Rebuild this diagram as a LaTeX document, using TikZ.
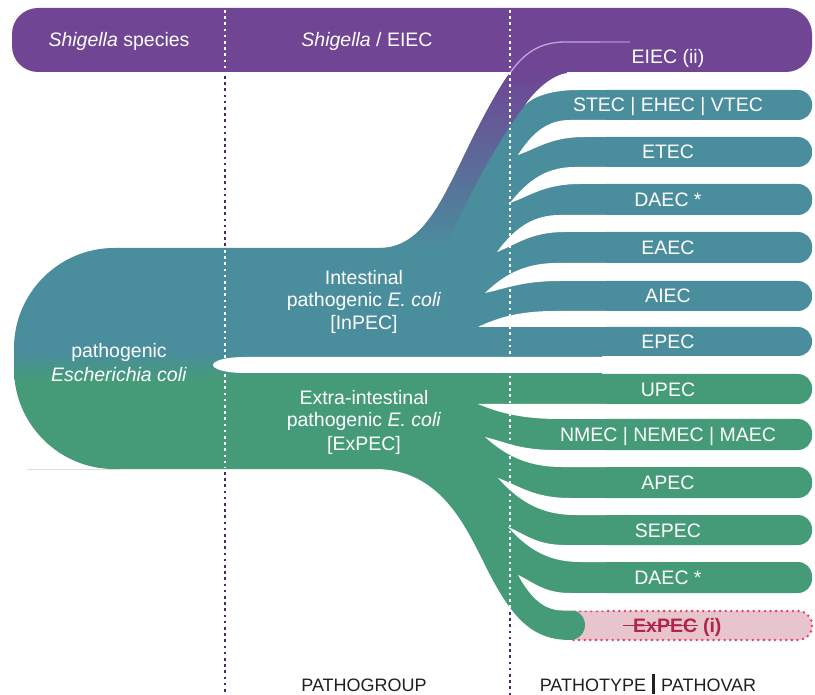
\documentclass[tikz,border=0pt]{standalone}
\usepackage{fontspec}
\setmainfont{Liberation Sans}
\usetikzlibrary{calc}
\definecolor{purp}{RGB}{111,69,148}
\definecolor{tealc}{RGB}{74,141,157}
\definecolor{greenc}{RGB}{69,155,120}
\definecolor{darkdot}{RGB}{72,42,106}
\definecolor{pinkfill}{RGB}{232,196,205}
\definecolor{pinkdot}{RGB}{232,64,100}
\definecolor{crimson}{RGB}{176,38,72}
\definecolor{lav}{RGB}{190,170,215}
\definecolor{inkc}{RGB}{35,31,32}
\tikzset{
  lbl/.style={text=white, font=\fontsize{19.5}{22.5}\selectfont, inner sep=0pt, anchor=base},
  botlbl/.style={text=inkc, font=\fontsize{18}{21}\selectfont, inner sep=0pt, anchor=base},
  whitedots/.style={draw=white, line width=2.6pt, dash pattern=on 2.6pt off 3.6pt},
  darkdots/.style={draw=darkdot, line width=2.6pt, dash pattern=on 2.6pt off 3.6pt},
  tealbar/.style={fill=tealc, rounded corners=14pt},
  greenbar/.style={fill=greenc, rounded corners=14pt},
  gapfill/.style={fill=white}
}
\begin{document}
\begin{tikzpicture}[x=1pt,y=-1pt]
\useasboundingbox (0,0) rectangle (815,695);
\fill[white] (0,0) rectangle (815,695);

% pink dotted box
\draw[pinkdot, fill=pinkfill, line width=2.8pt, dash pattern=on 0pt off 5.6pt, line cap=round, rounded corners=14pt] (560,611) rectangle (812,640);

% right bars
\foreach \t/\b in {90/120,137/167,184/215,232/263,281/311,327/356}
  \path[tealbar] (590,\t) rectangle (812,\b);
\foreach \t/\b in {374/404,419/450,467/498,515/545,562/593}
  \path[greenbar] (590,\t) rectangle (812,\b);

% main body and fans
\begin{scope}
\clip (114,248) -- (380,248) .. controls (420,248) and (440,205) .. (462,160)
  .. controls (480,122) and (500,85) .. (512,70) -- (602,70) -- (602,610) -- (570,610)
  .. controls (578.3,610) and (585,616.7) .. (585,625) .. controls (585,633.3) and (578.3,640) .. (570,640)
  .. controls (530,640) and (510,615) .. (485,565) .. controls (465,525) and (440,469) .. (375,469)
  -- (114,469) .. controls (59,469) and (14,424) .. (14,369) -- (14,348)
  .. controls (14,293) and (59,248) .. (114,248) -- cycle;
\fill[tealc] (0,0) rectangle (815,365);
\fill[greenc] (0,365) rectangle (815,695);
\shade[top color=tealc, bottom color=greenc] (0,352) rectangle (240,380);
\end{scope}

% white wedges, upper fan
\path[gapfill] (525,105) -- (540,75) -- (545,70) -- (606,70) -- (606,90) -- (578,90)
  .. controls (555,90) and (535,95) .. (525,105) -- cycle;
\path[gapfill] (518,155) .. controls (533.6,130.5) and (549.2,120) .. (570,120) -- (606,120) -- (606,137) -- (585,137)
  .. controls (551.5,137) and (538.1,147.8) .. (518,155) -- cycle;
\path[gapfill] (510,203) .. controls (529.5,177.8) and (549,167) .. (575,167) -- (606,167) -- (606,184) -- (580,184)
  .. controls (545,184) and (531,195.4) .. (510,203) -- cycle;
\path[gapfill] (497,252) .. controls (515.9,226.1) and (534.8,215) .. (560,215) -- (606,215) -- (606,232) -- (565,232)
  .. controls (531,232) and (517.4,244) .. (497,252) -- cycle;
\path[gapfill] (485,293) .. controls (506.6,272) and (528.2,263) .. (557,263) -- (606,263) -- (606,281) -- (560,281)
  .. controls (522.5,281) and (507.5,288.2) .. (485,293) -- cycle;
\path[gapfill] (478,327) .. controls (501.1,315.8) and (524.2,311) .. (555,311) -- (606,311) -- (606,327) -- cycle;
% slot
\path[gapfill] (606,357) -- (245,357) .. controls (225,357) and (213,361) .. (213,365)
  .. controls (213,369) and (225,373) .. (245,373) -- (606,373) -- cycle;
% white wedges, lower fan
\path[gapfill] (478,404) -- (606,404) -- (606,419) -- (560,419)
  .. controls (527.2,419) and (502.6,414.5) .. (478,404) -- cycle;
\path[gapfill] (485,437) .. controls (506,442.2) and (520,450) .. (555,450) -- (606,450) -- (606,467) -- (562,467)
  .. controls (531.2,467) and (508.1,458) .. (485,437) -- cycle;
\path[gapfill] (498,478) .. controls (519.6,486) and (534,498) .. (570,498) -- (606,498) -- (606,515) -- (575,515)
  .. controls (544.2,515) and (521.1,503.9) .. (498,478) -- cycle;
\path[gapfill] (508,527) .. controls (525.1,534.2) and (536.5,545) .. (565,545) -- (606,545) -- (606,562) -- (580,562)
  .. controls (551.2,562) and (529.6,551.5) .. (508,527) -- cycle;
\path[gapfill] (518,575) .. controls (533.6,582.2) and (544,593) .. (570,593) -- (606,593) -- (606,610.5) -- (563,610.5)
  .. controls (545,610.5) and (531.5,599.5) .. (518,575) -- cycle;

% ribbon to EIEC
\shade[top color=purp, middle color=purp!78!tealc, bottom color=tealc]
  (380,248) .. controls (420,248) and (440,205) .. (462,160)
  .. controls (480,122) and (500,85) .. (512,70) -- (567,70) -- (567,73)
  .. controls (552,75) and (535,90) .. (525,105)
  .. controls (505,130) and (470,190) .. (445,248) -- cycle;

% purple bar
\fill[purp, rounded corners=26pt] (12,8) rectangle (812,72);
\draw[lav, line width=1.3pt] (510,73) .. controls (524,53) and (540,42) .. (565,42) -- (600,42);
\draw[lav, line width=1.3pt, opacity=0.5] (600,42) -- (630,42);

% faint base line
\draw[gray!25, line width=0.8pt] (27,469) -- (120,469);

% dotted guides
\draw[whitedots] (225,10) -- (225,72);
\draw[darkdots] (225,76) -- (225,246);
\draw[whitedots] (225,250) -- (225,468);
\draw[darkdots] (225,472) -- (225,695);
\draw[whitedots] (510,10) -- (510,608);
\draw[darkdots] (510,612) -- (510,695);

% labels
\node[lbl] (sspec) at (119,47) {\textit{Shigella} species};
\node[lbl] (sheiec) at (367,47) {\textit{Shigella} / EIEC};
\node[lbl] (eiec) at (668,64) {EIEC (ii)};
\node[lbl] (stec) at (668,112) {STEC | EHEC | VTEC};
\node[lbl] (etec) at (668,159) {ETEC};
\node[lbl] (daeca) at (668,206.5) {DAEC *};
\node[lbl] (eaec) at (668,254.5) {EAEC};
\node[lbl] (aiec) at (668,303) {AIEC};
\node[lbl] (epec) at (668,348.5) {EPEC};
\node[lbl] (upec) at (668,396) {UPEC};
\node[lbl] (nmec) at (668,441.5) {NMEC | NEMEC | MAEC};
\node[lbl] (apec) at (668,489.5) {APEC};
\node[lbl] (sepec) at (668,537) {SEPEC};
\node[lbl] (daecb) at (668,584.5) {DAEC *};
\node[lbl, text=crimson, anchor=base west, font=\fontsize{19.5}{22.5}\selectfont\bfseries] (expec) at (633,632.5) {ExPEC};
\node[lbl, text=crimson, anchor=base west, font=\fontsize{19.5}{22.5}\selectfont\bfseries] (expeci) at ($(expec.base east)+(5.5,0)$) {(i)};
\draw[crimson, line width=1.6pt] ($(expec.base west)+(-10,-7)$) -- ($(expec.base east)+(1,-7)$);

\node[lbl] (pe1) at (119,358) {pathogenic};
\node[lbl] (pe2) at (119,382) {\textit{Escherichia coli}};
\node[lbl] (in1) at (364,285) {Intestinal};
\node[lbl] (in2) at (364,307) {pathogenic \textit{E. coli}};
\node[lbl] (in3) at (364,330) {[InPEC]};
\node[lbl] (ex1) at (364,405) {Extra-intestinal};
\node[lbl] (ex2) at (364,427) {pathogenic \textit{E. coli}};
\node[lbl] (ex3) at (364,450) {[ExPEC]};

\node[botlbl] (pg) at (364,691) {PATHOGROUP};
\node[botlbl] (pt) at (648,691) {PATHOTYPE\hspace{6pt}\rule[-3pt]{3pt}{20pt}\hspace{6pt}PATHOVAR};
\end{tikzpicture}
\end{document}
